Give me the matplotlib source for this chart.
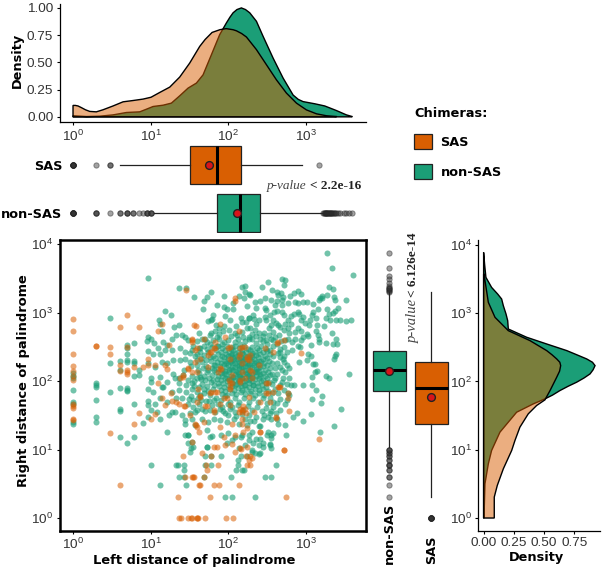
import numpy as np
import matplotlib
matplotlib.use('Agg')
import matplotlib.pyplot as plt
from matplotlib.patches import Patch
from matplotlib.ticker import NullLocator

plt.rcParams['font.family'] = ['Liberation Sans', 'DejaVu Sans']
plt.rcParams['mathtext.default'] = 'regular'

SAS_COL = '#D95F02'
NON_COL = '#1B9E77'
W, H = 604, 573

# density of left distance, x given as log10(distance)
top_sas_log = [0, .03, .064, .107, .16, .215, .30, .386, .515, .644, .773, .901, 1.004, 1.116, 1.245, 1.373, 1.502, 1.631,
               1.70, 1.79, 1.89, 1.97, 2.06, 2.103, 2.17, 2.232, 2.361, 2.489, 2.618, 2.747, 2.876, 3.004, 3.133, 3.262, 3.39]
top_sas_den = [.105, .105, .10, .085, .065, .05, .046, .065, .10, .138, .15, .163, .18, .224, .273, .365, .494, .647,
               .71, .775, .80, .81, .80, .79, .765, .733, .617, .479, .34, .218, .126, .064, .028, .01, .003]
top_non_log = [0, .172, .343, .515, .687, .858, .944, 1.03, 1.159, 1.266, 1.373, 1.481, 1.588, 1.674, 1.781, 1.888,
               1.974, 2.02, 2.06, 2.11, 2.167, 2.22, 2.275, 2.361, 2.446, 2.575, 2.704, 2.833, 2.90, 2.961, 3.112, 3.24, 3.39, 3.519, 3.592]
top_non_den = [.01, .003, .006, .018, .04, .046, .07, .095, .107, .126, .193, .264, .31, .386, .57, .755,
               .862, .915, .955, .985, 1.0, .985, .955, .877, .74, .54, .356, .2, .16, .14, .12, .1, .058, .018, .003]

# density of right distance
right_non_log = [0, .502, .794, .989, 1.257, 1.403, 1.549, 1.671, 1.744, 1.80, 1.866, 1.93, 1.988, 2.05, 2.11, 2.17, 2.231, 2.28, 2.329,
                 2.39, 2.451, 2.548, 2.646, 2.767, 2.889, 2.987, 3.108, 3.206, 3.279, 3.376, 3.523, 3.717, 3.888]
right_non_den = [.003, .011, .039, .066, .135, .204, .273, .411, .507, .57, .631, .70, .769, .83, .88, .905, .921, .90, .852,
                 .77, .687, .521, .356, .204, .199, .185, .163, .149, .116, .066, .019, .008, 0]
right_sas_log = [0, .307, .477, .721, .989, 1.135, 1.33, 1.525, 1.647, 1.73, 1.866, 2.061, 2.15, 2.231, 2.28, 2.329, 2.39, 2.451,
                 2.597, 2.743, 2.938, 3.157, 3.571]
right_sas_den = [.088, .088, .113, .163, .232, .259, .30, .369, .438, .507, .549, .604, .628, .637, .63, .604, .565, .521,
                 .383, .204, .094, .039, .003]

# box plot numbers, left distance
left_sas_box = dict(q1=32, med=72, q3=147, whislo=4, whishi=890, mean=57,
                    fliers=[1, 1, 1, 1, 1, 1, 1, 1, 2, 3, 3, 1480])
left_non_box = dict(q1=71, med=141, q3=253, whislo=11, whishi=1650, mean=128,
                    fliers=[1, 1, 1, 1, 1, 1, 1, 1, 2, 2, 2, 3, 4, 4, 5, 5, 5, 6, 6, 7, 8, 9, 9, 9, 10, 10, 10,
                            1660, 1700, 1730, 1760, 1790, 1820, 1850, 1880, 1920, 1950, 1990, 2030,
                            2070, 2120, 2170, 2230, 2300, 2380, 2450, 2600, 2750, 3050, 3300, 3600, 3950])
# box plot numbers, right distance
right_non_box = dict(q1=73, med=146, q3=282, whislo=11, whishi=2010, mean=141,
                     fliers=[2, 3, 4, 4, 5, 5, 6, 6, 6, 7, 7, 8, 8, 9, 9, 10, 10, 10,
                             2060, 2120, 2180, 2240, 2300, 2350, 2500, 2800, 3150, 3500, 4550, 7700])
right_sas_box = dict(q1=24, med=80, q3=190, whislo=2, whishi=2055, mean=59, fliers=[1, 1, 1, 1, 1, 1, 1, 1])

# scatter, (log10 left, log10 right)
sas_points = [
    (0, 2.91), (0, 2.73), (0, 2.39), (0, 2.22), (0, 2.15), (0, 2.08), (0, 2.01), (0, 1.67), (0, 1.64), (0, 1.61),
    (0, 1.45), (0, 1.43), (.3, 2.51), (.3, 2.51), (.48, 2.50), (.48, 2.40), (.48, 1.24), (.6, 2.79), (.6, 2.24),
    (.6, 2.15), (.6, .48), (.7, 2.96), (.7, 2.50), (.7, 2.16), (.7, 2.13), (.7, 2.10), (.78, 2.21), (.78, 1.37),
    (.85, 2.79), (.85, 1.54), (.90, 2.20), (.96, 2.32), (.96, 2.24), (1.0, 1.45), (1.05, 1.52), (1.05, 2.24),
    (1.09, 2.73), (1.09, 1.97), (1.15, 2.84), (1.15, 1.76), (1.18, 2.23), (1.19, 1.65), (1.21, 2.18), (1.23, 2.53),
    (1.26, 1.82), (1.28, 1.71), (1.33, 1.70), (1.36, 1.67), (1.43, 1.63), (1.51, 1.50), (1.59, 1.33), (1.62, 1.26),
    (1.53, 1.11), (1.42, .91), (1.53, .60), (1.56, .60), (1.44, .60), (1.35, .30), (1.37, 0), (1.39, 0), (1.48, 0),
    (1.53, 0), (1.60, 0), (1.62, .48), (1.46, 3.33), (1.56, 2.82), (1.53, 2.57), (1.59, 2.48), (1.57, 2.28),
    (1.42, 2.09), (1.38, 2.04), (1.48, 2.18), (1.53, 2.14), (1.64, 2.33), (1.61, 1.89), (1.59, 1.70),
    (2.08, 3.22), (2.09, 3.17), (1.89, 2.84), (1.58, 2.81), (2.13, 2.74), (1.53, 2.61), (1.83, 2.57), (1.96, 2.65),
    (1.69, 2.61), (1.81, 2.48), (2.02, 2.50), (2.17, 2.50), (2.71, 2.60), (2.63, 2.56), (2.47, 2.49), (2.21, 2.50),
    (2.94, 2.41), (2.58, 2.43), (2.49, 1.97), (2.51, 1.82), (2.77, 1.82), (2.77, 1.76), (2.66, 1.92), (2.58, 1.84),
    (2.78, 1.57), (2.61, 1.47), (2.41, 1.26), (3.16, 1.15), (2.72, 1.00), (2.24, 1.32), (2.17, 1.45), (2.18, 1.38),
    (2.21, 1.60), (2.18, 1.58), (2.23, 1.53), (2.33, 1.55), (2.24, 1.04), (2.16, 1.01), (2.23, .91), (2.28, .90),
    (2.31, .87), (2.26, .85), (2.24, .78), (2.28, .78), (1.71, .78), (1.72, .70), (1.86, .78), (1.69, .60),
    (1.54, .60), (1.82, .48), (1.88, .48), (2.13, .48), (1.63, .48), (1.76, .30), (2.74, .30), (1.52, 0), (1.61, 0),
    (1.70, 0), (1.97, 0), (2.06, 0), (1.59, 0), (1.82, 1.04), (1.85, 1.04), (1.96, 1.06), (2.04, 1.08), (2.15, 1.02),
    (2.09, .97), (1.66, .95), (1.78, .91), (1.94, 1.19), (2.09, 1.22), (2.19, 1.26), (2.41, 1.26), (2.71, 1.00),
    (2.15, 1.60), (2.17, 1.55), (2.61, 1.46), (2.02, 1.65), (1.94, 1.75), (1.78, 1.84), (1.63, 1.77), (1.72, 1.63),
    (1.81, 1.55), (1.58, 1.36), (1.68, 1.41), (1.89, 1.33), (2.04, 1.38), (1.76, 2.43), (1.83, 2.48), (2.0, 2.48),
    (2.24, 2.36), (2.26, 2.31), (2.15, 2.48), (2.17, 2.26), (2.02, 2.33), (1.91, 2.18), (1.87, 2.14), (2.39, 2.23),
    (2.28, 2.16), (2.04, 1.97), (2.02, 1.92), (2.15, 2.01), (2.21, 2.04), (2.51, 1.97), (2.49, 1.82), (2.64, 2.57),
    (2.64, 1.92), (2.54, 1.70), (2.41, 1.70), (1.85, 1.84), (1.98, 1.75), (1.78, 2.43), (1.74, 2.38), (1.57, 2.45),
    (1.53, 2.60), (2.13, 2.36), (2.15, 2.40), (2.24, 2.33), (2.28, 2.38), (1.89, 2.19), (1.74, 2.21), (2.04, 2.09),
    (2.17, 2.14), (2.30, 2.14), (2.02, 1.97), (2.15, 1.99), (2.30, 2.04), (1.63, 1.79), (1.76, 1.82), (1.83, 1.84),
    (2.02, 1.89), (2.13, 1.55), (2.19, 1.63), (1.44, 1.64), (1.42, 2.06), (1.48, 2.19), (1.59, 2.14), (2.65, 1.92),
    (2.26, 1.77), (1.89, 1.67), (1.57, 1.38), (1.70, 1.63), (1.81, 1.58), (2.01, 2.02),
]

non_points = [
    (0, 2.12), (0, 2.08), (0, 2.04), (0, 1.87), (0, 1.70), (0, 1.67), (0, 1.41), (0, 1.38), (.3, 1.98), (.3, 1.94),
    (.3, 1.91), (.3, 1.72), (.3, 1.47), (.3, 1.41), (.48, 2.93), (.48, 2.26), (.48, 1.84), (.6, 2.29), (.6, 2.16),
    (.6, 1.90), (.6, 1.59), (.6, 1.56), (.6, 1.19), (.7, 2.53), (.7, 2.49), (.7, 2.39), (.7, 2.31), (.7, 2.28),
    (.7, 1.90), (.7, 1.87), (.7, 1.85), (.7, 1.09), (.78, 2.56), (.78, 2.30), (.78, 2.26), (.78, 2.07), (.78, 1.67),
    (.78, 1.19), (.85, 2.16), (.85, 2.09), (.96, 3.51), (.90, 1.39),
    (.96, 2.65), (1.01, 2.62), (.95, 2.58), (1.04, 2.56), (1.11, 2.89), (1.12, 2.84), (1.15, 2.74), (1.18, 3.02),
    (1.26, 2.96), (1.30, 2.79), (1.37, 2.82), (.97, 2.44), (1.03, 2.40), (1.10, 2.48), (1.16, 2.57), (1.21, 2.53),
    (1.28, 2.62), (1.33, 2.67), (1.40, 2.67), (1.44, 2.65), (1.48, 2.60), (1.12, 2.40), (1.19, 2.45), (1.28, 2.45),
    (1.38, 2.48), (1.44, 2.43), (1.53, 2.45), (1.59, 2.40), (1.64, 2.48), (.97, 2.26), (1.06, 2.21), (1.14, 2.28),
    (1.21, 2.26), (1.29, 2.31), (1.38, 2.31), (1.44, 2.33), (1.51, 2.28), (1.59, 2.31), (1.0, 2.04), (1.01, 1.99),
    (1.12, 2.06), (1.16, 1.92), (1.21, 1.99), (1.31, 2.04), (1.29, 2.11), (1.36, 2.04), (1.42, 2.09), (1.48, 2.01),
    (1.53, 1.97), (1.59, 2.04), (1.64, 2.06), (.96, 1.88), (1.03, 1.84), (1.14, 1.92), (1.27, 1.84), (1.37, 1.87),
    (1.46, 1.84), (1.53, 1.89), (1.59, 1.84), (1.64, 1.80), (.96, 1.71), (.97, 1.65), (1.05, 1.67), (1.12, 1.75),
    (1.21, 1.70), (1.33, 1.75), (1.40, 1.75), (1.48, 1.67), (1.55, 1.72), (1.61, 1.75), (1.0, 1.58), (1.08, 1.55),
    (.96, 1.48), (1.12, 1.45), (1.23, 1.50), (1.27, 1.55), (1.31, 1.55), (1.40, 1.51), (1.51, 1.53), (1.59, 1.58),
    (1.21, 1.26), (1.44, 1.21), (1.48, 1.21), (1.48, 1.09), (1.53, 1.11), (1.51, .97), (1.52, 1.02), (1.55, 1.04),
    (1.32, .78), (1.35, .78), (1.43, .78), (1.43, .70), (1.36, .60), (1.43, .60), (1.12, .48), (1.0, .78), (1.46, .48),
    (1.36, 3.36), (1.46, 3.36), (1.56, 3.23),
    (1.78, 3.31), (1.73, 3.23), (1.69, 3.17), (1.85, 3.12), (1.94, 3.25), (1.67, 3.05), (1.94, 3.09), (1.98, 3.05),
    (2.06, 3.06), (2.06, 3.14), (2.17, 3.38), (2.22, 3.39), (2.21, 3.30), (2.27, 3.27), (2.14, 3.24), (2.20, 3.21),
    (2.24, 3.10), (1.74, 2.88), (1.78, 2.90), (1.80, 2.96), (1.79, 2.91), (1.84, 2.82), (1.95, 2.95), (2.02, 2.90),
    (1.94, 2.81), (2.18, 2.86), (2.23, 2.87), (2.26, 2.92), (2.24, 2.78), (2.01, 2.75), (1.93, 2.73), (1.76, 2.67),
    (1.85, 2.65), (1.94, 2.57), (1.70, 2.61), (2.11, 2.67), (2.19, 2.65), (2.26, 2.65), (2.15, 2.55), (2.04, 2.50),
    (1.85, 2.52), (1.76, 2.55),
    (3.27, 3.88), (3.33, 3.65), (3.60, 3.55), (2.69, 3.49), (2.73, 3.48), (2.51, 3.45), (2.71, 3.40), (2.43, 3.37),
    (3.29, 3.37), (3.35, 3.35), (2.56, 3.33), (2.63, 3.31), (2.68, 3.29), (2.85, 3.29), (2.89, 3.32), (2.93, 3.28),
    (2.79, 3.25), (3.27, 3.26), (3.20, 3.24), (3.36, 3.23), (2.70, 3.23), (2.64, 3.26), (2.28, 3.26), (2.47, 3.22),
    (2.41, 3.17), (2.34, 3.16), (2.55, 3.18), (2.62, 3.17), (2.69, 3.18), (2.77, 3.14), (2.86, 3.16), (2.89, 3.14),
    (2.96, 3.15), (3.01, 3.16), (3.09, 3.13), (3.16, 3.19), (3.18, 3.21), (3.21, 3.22), (3.37, 3.19), (3.51, 3.18),
    (2.35, 3.07), (2.47, 3.07), (2.48, 3.04), (2.60, 3.11), (2.69, 3.11), (2.59, 3.01), (2.62, 3.03), (2.54, 2.96),
    (2.69, 3.01), (2.72, 2.96), (3.09, 3.01), (3.15, 3.05), (3.27, 3.05), (3.41, 3.07), (3.37, 3.03), (3.35, 2.99),
    (3.30, 2.98), (2.89, 3.01), (2.84, 2.98), (2.91, 2.98), (2.96, 2.94), (2.80, 2.95), (3.07, 2.96), (3.13, 2.93),
    (3.26, 2.93), (3.31, 2.90), (3.39, 2.89), (3.44, 2.89), (3.52, 2.88), (3.58, 2.89), (2.32, 2.96), (2.26, 2.93),
    (2.33, 2.91), (2.47, 2.94), (2.49, 2.90), (2.58, 2.89), (2.61, 2.85), (2.64, 2.82), (2.77, 2.89), (2.73, 2.84),
    (2.81, 2.83), (2.94, 2.89), (2.99, 2.85), (3.05, 2.89), (3.04, 2.82), (3.14, 2.82), (3.23, 2.80), (3.33, 2.71),
    (3.13, 2.74), (3.15, 2.67), (3.17, 2.62), (3.16, 2.57), (3.38, 2.61), (3.26, 2.56), (3.35, 2.55), (3.40, 2.54),
    (2.77, 2.78), (2.71, 2.75), (2.66, 2.79), (2.89, 2.78), (2.86, 2.72), (2.94, 2.74), (3.01, 2.69), (2.96, 2.65),
    (3.03, 2.66), (2.78, 2.70), (2.77, 2.62), (2.86, 2.61), (2.94, 2.60), (3.06, 2.53), (2.89, 2.51), (2.92, 2.50),
    (2.73, 2.60), (2.57, 2.72), (2.34, 2.75), (2.28, 2.77), (2.31, 2.62), (2.41, 2.62), (2.46, 2.70), (2.49, 2.60),
    (2.58, 2.60),
    (3.55, 2.10), (3.36, 2.33), (3.38, 2.39), (3.37, 2.37), (3.09, 2.25), (3.11, 2.25), (3.14, 2.15), (3.11, 2.14),
    (3.08, 2.06), (3.26, 2.07), (3.29, 2.04), (2.91, 2.28), (3.03, 2.39), (3.06, 2.37), (3.01, 2.31), (2.96, 1.95),
    (3.07, 1.95), (3.13, 1.87), (3.21, 1.78), (3.07, 1.74), (3.19, 1.68), (3.45, 1.59), (3.06, 1.52), (3.36, 1.35),
    (3.18, 1.26), (2.96, 1.42), (2.88, 1.53), (2.83, 1.48), (2.85, 1.95), (2.81, 1.94), (2.78, 1.80), (2.75, 1.72),
    (2.73, 1.67), (2.66, 1.58), (2.61, 1.54), (2.55, 1.45), (2.51, 1.47), (2.45, 1.44), (2.62, 1.45), (2.64, 1.37),
    (2.73, 1.36), (2.74, 1.21), (2.58, 1.24), (2.51, 1.25), (2.55, 1.17), (2.35, 1.15), (2.41, 1.15), (2.45, 1.09),
    (2.53, 1.08), (2.55, 1.03), (2.39, 1.07), (2.32, 1.09), (2.26, 1.21), (2.31, 1.26), (2.39, 1.35), (2.41, 1.35),
    (2.28, 1.42), (2.33, 1.42), (2.16, 1.18), (2.30, 1.00), (2.34, .95), (2.41, .95), (2.70, 2.33), (2.66, 2.35),
    (2.71, 2.28), (2.66, 2.21), (2.75, 2.23), (2.78, 2.19), (2.73, 2.14), (2.69, 2.16), (2.78, 2.05), (2.63, 2.11),
    (2.75, 1.96), (2.60, 2.04), (2.66, 1.94), (2.71, 1.87), (2.64, 1.82), (2.77, 1.83),
    (1.72, 1.04), (1.70, .91), (1.78, .91), (1.91, .91), (1.70, .78), (1.78, .78), (1.69, .60), (2.03, .60), (1.96, .30),
    (2.04, .30), (2.12, .78), (2.10, .70), (2.17, .70), (2.20, .70), (2.16, .91), (2.24, .91), (2.47, .60), (2.55, .60),
    (2.61, .78), (2.34, .30), (2.12, .85), (2.39, .94), (2.30, .97), (2.45, 1.04), (2.54, 1.07), (2.55, 1.21), (2.50, 1.21),
    (1.68, 1.82), (1.71, 1.71), (1.76, 1.80), (1.81, 1.72), (1.86, 1.67), (1.66, 1.60), (1.70, 1.56), (1.76, 1.58),
    (1.83, 1.55), (1.89, 1.60), (1.96, 1.53), (2.02, 1.60), (2.09, 1.55), (1.66, 1.45), (1.74, 1.41), (1.81, 1.45),
    (1.89, 1.43), (1.98, 1.41), (2.07, 1.45), (2.13, 1.38), (2.21, 1.45), (2.24, 1.36), (1.72, 1.29), (1.79, 1.20),
    (1.91, 1.21), (2.0, 1.24), (2.09, 1.18), (2.17, 1.21), (1.98, 1.09), (2.04, 1.14), (2.13, 1.02), (2.21, 1.07),
    (2.26, 1.14), (1.76, 1.18), (1.72, 1.04), (1.57, 1.55), (1.53, 1.45), (1.44, 1.43), (1.44, 1.37), (1.57, 1.36), (1.48, 1.21),
    # fringe round the core
    (1.62, 2.70), (1.78, 2.71), (1.88, 2.69), (2.08, 2.70), (2.30, 2.69), (2.40, 2.71), (2.52, 2.68), (1.60, 2.58),
    (1.66, 2.62), (1.72, 2.57), (1.80, 2.60), (1.88, 2.62), (1.92, 2.55), (2.00, 2.60), (2.08, 2.57), (2.12, 2.62),
    (2.22, 2.58), (2.27, 2.61), (2.35, 2.56), (2.44, 2.58), (2.50, 2.55), (2.55, 2.62), (2.62, 2.54), (2.68, 2.58),
    (2.82, 2.57), (1.55, 2.52), (1.62, 2.48), (1.68, 2.52), (1.73, 2.47), (1.79, 2.50), (2.53, 2.46), (2.58, 2.51),
    (2.66, 2.47), (2.72, 2.50), (2.82, 2.46), (1.50, 2.41), (1.57, 2.37), (1.63, 2.42), (1.69, 2.38), (1.74, 2.43),
    (1.80, 2.37), (2.58, 2.37), (2.64, 2.41), (2.72, 2.37), (1.52, 2.22), (1.60, 2.24), (1.66, 2.28), (1.71, 2.22),
    (1.77, 2.30), (1.81, 2.24), (2.56, 2.26), (2.60, 2.19), (1.53, 2.08), (1.62, 2.12), (1.68, 2.07), (1.73, 2.13),
    (1.79, 2.09), (1.82, 2.16), (2.56, 2.11), (2.59, 2.02), (1.66, 1.96), (1.72, 1.93), (1.77, 1.99), (1.82, 1.94),
    (2.56, 1.96), (2.60, 1.88), (2.53, 1.76), (1.75, 1.71), (1.84, 1.76), (1.90, 1.72), (1.96, 1.78), (2.02, 1.70),
    (2.08, 1.76), (2.13, 1.70), (2.20, 1.76), (2.26, 1.70), (2.32, 1.75), (2.38, 1.69), (2.44, 1.75), (2.50, 1.68),
    (2.58, 1.70), (1.92, 1.62), (1.99, 1.66), (2.05, 1.62), (2.12, 1.65), (2.19, 1.58), (2.25, 1.63), (2.31, 1.58),
    (2.37, 1.62), (2.43, 1.56), (2.49, 1.61), (2.55, 1.56),
    (1.65, 2.34), (1.71, 2.31), (1.76, 2.36), (1.61, 2.17), (1.67, 2.19), (1.74, 2.17), (1.79, 2.19), (1.65, 2.03),
    (1.70, 2.01), (1.75, 2.05), (1.80, 2.02), (1.62, 1.92), (1.69, 1.88), (1.74, 1.86), (1.80, 1.89), (1.65, 1.72),
    (1.79, 1.65), (1.93, 1.57), (2.00, 1.50), (2.10, 1.49), (2.17, 1.52), (2.27, 1.50), (2.36, 1.48), (2.46, 1.50),
    (2.53, 1.53), (2.58, 1.62), (2.62, 1.68), (2.66, 1.74), (2.69, 1.99), (2.70, 2.05), (2.62, 2.27), (2.66, 2.42),
    (2.75, 2.43), (2.60, 2.65), (2.65, 2.68), (2.36, 2.66), (2.44, 2.66), (2.17, 2.72), (2.03, 2.66), (1.83, 2.74),
    (1.88, 2.77), (2.10, 2.80), (2.36, 2.84), (2.52, 2.78), (2.40, 2.90), (2.55, 2.82), (2.16, 2.93), (1.55, 1.62),
    (1.49, 1.74), (1.56, 1.93), (1.45, 1.95), (1.56, 2.00), (1.52, 1.78), (1.62, 1.66), (1.37, 1.97), (1.43, 2.16),
    # dense core
    (1.86, 2.51), (1.92, 2.49), (1.98, 2.52), (2.03, 2.47), (2.09, 2.51), (2.14, 2.48), (2.20, 2.52), (2.25, 2.47), (2.31, 2.50), (2.37, 2.48), (2.42, 2.51), (2.48, 2.47),
    (1.84, 2.45), (1.90, 2.43), (1.95, 2.46), (2.01, 2.42), (2.06, 2.45), (2.12, 2.43), (2.17, 2.46), (2.23, 2.42), (2.28, 2.45), (2.34, 2.43), (2.39, 2.46), (2.45, 2.42), (2.50, 2.44),
    (1.86, 2.39), (1.92, 2.37), (1.97, 2.40), (2.03, 2.38), (2.08, 2.41), (2.14, 2.38), (2.19, 2.40), (2.25, 2.37), (2.30, 2.41), (2.36, 2.38), (2.41, 2.40), (2.47, 2.37), (2.53, 2.39),
    (1.83, 2.34), (1.89, 2.32), (1.94, 2.35), (2.00, 2.33), (2.05, 2.36), (2.11, 2.33), (2.16, 2.35), (2.22, 2.32), (2.27, 2.36), (2.33, 2.33), (2.38, 2.35), (2.44, 2.32), (2.50, 2.34),
    (1.85, 2.28), (1.91, 2.27), (1.96, 2.30), (2.02, 2.28), (2.07, 2.31), (2.13, 2.28), (2.18, 2.30), (2.24, 2.27), (2.29, 2.30), (2.35, 2.28), (2.40, 2.30), (2.46, 2.27), (2.52, 2.29),
    (1.83, 2.23), (1.89, 2.22), (1.94, 2.25), (2.00, 2.23), (2.05, 2.26), (2.11, 2.23), (2.16, 2.25), (2.22, 2.22), (2.27, 2.25), (2.33, 2.23), (2.38, 2.25), (2.44, 2.22), (2.50, 2.24),
    (1.86, 2.18), (1.92, 2.17), (1.97, 2.20), (2.03, 2.18), (2.08, 2.21), (2.14, 2.18), (2.19, 2.20), (2.25, 2.17), (2.30, 2.20), (2.36, 2.18), (2.41, 2.20), (2.47, 2.17), (2.53, 2.19),
    (1.84, 2.13), (1.90, 2.12), (1.95, 2.15), (2.01, 2.13), (2.06, 2.16), (2.12, 2.13), (2.17, 2.15), (2.23, 2.12), (2.28, 2.15), (2.34, 2.13), (2.39, 2.15), (2.45, 2.12), (2.51, 2.14),
    (1.86, 2.08), (1.92, 2.07), (1.97, 2.10), (2.03, 2.08), (2.08, 2.11), (2.14, 2.08), (2.19, 2.10), (2.25, 2.07), (2.30, 2.10), (2.36, 2.08), (2.41, 2.10), (2.47, 2.07), (2.53, 2.09),
    (1.85, 2.03), (1.90, 2.02), (1.95, 2.05), (2.01, 2.03), (2.06, 2.06), (2.12, 2.03), (2.17, 2.05), (2.23, 2.02), (2.28, 2.05), (2.34, 2.03), (2.39, 2.05), (2.45, 2.02), (2.50, 2.04),
    (1.87, 1.98), (1.93, 1.97), (1.98, 2.00), (2.04, 1.98), (2.09, 2.01), (2.15, 1.98), (2.20, 2.00), (2.26, 1.97), (2.31, 2.00), (2.37, 1.98), (2.42, 2.00), (2.48, 1.97), (2.52, 1.99),
    (1.88, 1.93), (1.94, 1.92), (1.99, 1.95), (2.05, 1.93), (2.10, 1.96), (2.16, 1.93), (2.21, 1.95), (2.27, 1.92), (2.32, 1.95), (2.38, 1.93), (2.43, 1.95), (2.49, 1.92),
    (1.90, 1.87), (1.96, 1.86), (2.01, 1.89), (2.07, 1.87), (2.12, 1.90), (2.18, 1.87), (2.23, 1.89), (2.29, 1.86), (2.34, 1.89), (2.40, 1.87), (2.45, 1.89), (2.51, 1.86),
    (1.92, 1.81), (1.98, 1.80), (2.04, 1.83), (2.10, 1.81), (2.16, 1.84), (2.22, 1.81), (2.28, 1.83), (2.34, 1.80), (2.40, 1.83), (2.46, 1.80), (2.56, 1.82),
    # tighter centre
    (2.05, 2.40), (2.11, 2.37), (2.17, 2.41), (2.23, 2.35), (2.29, 2.38), (2.03, 2.30), (2.09, 2.26), (2.15, 2.31), (2.21, 2.27), (2.27, 2.32), (2.33, 2.26),
    (2.04, 2.20), (2.10, 2.15), (2.16, 2.21), (2.22, 2.16), (2.28, 2.20), (2.34, 2.15), (2.06, 2.06), (2.12, 2.10), (2.18, 2.05), (2.24, 2.11), (2.30, 2.06),
    (2.08, 1.95), (2.14, 2.00), (2.20, 1.94), (2.26, 2.01), (2.32, 1.95), (1.97, 2.26), (1.94, 2.12), (1.98, 2.05), (2.38, 2.19), (2.41, 2.07), (2.42, 2.29),
    (2.00, 2.37), (2.07, 2.34), (2.19, 2.33), (2.31, 2.35), (2.01, 2.17), (2.13, 2.22), (2.25, 2.23), (2.37, 2.14), (2.03, 2.02), (2.15, 2.07), (2.27, 2.09),
]

left_ticks = [1, 10, 100, 1000]
right_ticks = [1, 10, 100, 1000, 10000]
den_ticks = [0, .25, .5, .75]
den_top_ticks = [0, .25, .5, .75, 1]


def new_axes(x0, y0, x1, y1):
    # rectangle given in pixels from top left of the figure
    return fig.add_axes([x0 / W, 1 - y1 / H, (x1 - x0) / W, (y1 - y0) / H])


def clean_log(axis, ticks):
    axis.set_major_locator(matplotlib.ticker.FixedLocator(ticks))
    axis.set_major_formatter(matplotlib.ticker.LogFormatterMathtext())
    axis.set_minor_locator(NullLocator())


def style(ax):
    ax.spines['top'].set_visible(False)
    ax.spines['right'].set_visible(False)
    ax.spines['left'].set_linewidth(0.9)
    ax.spines['bottom'].set_linewidth(0.9)
    ax.tick_params(labelsize=9.7, labelcolor='#333333', length=2.5, width=0.8, pad=2)


def box(ax, stats, orient):
    ax.bxp(stats, positions=[0, 1], widths=0.78, orientation=orient, patch_artist=True,
           showmeans=True, showcaps=False, manage_ticks=False,
           medianprops=dict(color='black', lw=2.2),
           whiskerprops=dict(color='#222222', lw=0.9),
           boxprops=dict(edgecolor='#222222', lw=0.9),
           meanprops=dict(marker='o', markerfacecolor='#D7141A', markeredgecolor='#222222', markersize=5.6, markeredgewidth=1),
           flierprops=dict(marker='o', markersize=3.8, markerfacecolor='#333333', markeredgecolor='#222222',
                           markeredgewidth=0.7, alpha=0.45))
    for patch, col in zip(ax.patches, [NON_COL, SAS_COL]):
        patch.set_facecolor(col)


fig = plt.figure(figsize=(W / 100, H / 100), dpi=100)

x_lim = (10 ** -0.174, 10 ** 3.771)
y_lim = (10 ** -0.19, 10 ** 4.07)

# top density
ax_top = new_axes(59.5, 4, 366, 122.3)
ax_top.fill([1] + list(10 ** np.array(top_non_log)) + [10 ** top_non_log[-1]], [0] + top_non_den + [0],
            fc=NON_COL, ec='black', lw=1)
ax_top.fill([1] + list(10 ** np.array(top_sas_log)) + [10 ** top_sas_log[-1]], [0] + top_sas_den + [0],
            fc=SAS_COL + '80', ec='black', lw=1)
ax_top.set_xscale('log')
ax_top.set_xlim(x_lim)
ax_top.set_ylim(-0.05, 1.036)
clean_log(ax_top.xaxis, left_ticks)
ax_top.set_yticks(den_top_ticks, ['0.00', '0.25', '0.50', '0.75', '1.00'])
style(ax_top)
fig.text(17 / W, 1 - 60 / H, 'Density', rotation=90, family='DejaVu Sans', weight='bold', size=9.3, ha='center', va='center')

# top box plots
ax_tb = new_axes(59.5, 145, 366, 233)
box(ax_tb, [left_non_box, left_sas_box], 'horizontal')
ax_tb.set_xscale('log')
ax_tb.set_xlim(x_lim)
ax_tb.set_ylim(-0.417, 1.417)
ax_tb.xaxis.set_visible(False)
ax_tb.set_yticks([0, 1], ['non-SAS', 'SAS'], family='DejaVu Sans', weight='bold', size=9.3)
ax_tb.tick_params(axis='y', length=0, pad=-2)
for s in ax_tb.spines.values():
    s.set_visible(False)
ax_tb.patch.set_alpha(0)

# scatter
ax_sc = new_axes(59.5, 239.5, 366, 531)
ax_sc.scatter(*(10 ** np.array(non_points).T), s=19, color=NON_COL, alpha=0.62, linewidths=0)
ax_sc.scatter(*(10 ** np.array(sas_points).T), s=19, color=SAS_COL, alpha=0.55, linewidths=0)
ax_sc.set_xscale('log')
ax_sc.set_yscale('log')
ax_sc.set_xlim(x_lim)
ax_sc.set_ylim(y_lim)
clean_log(ax_sc.xaxis, left_ticks)
clean_log(ax_sc.yaxis, right_ticks)
ax_sc.tick_params(labelsize=9.7, labelcolor='#333333', length=2.5, width=0.8, pad=2)
for s in ax_sc.spines.values():
    s.set_linewidth(1.8)
ax_sc.set_xlabel('Left distance of palindrome', family='DejaVu Sans', weight='bold', size=9.4, labelpad=1, x=0.44)
ax_sc.set_ylabel('Right distance of palindrome', family='DejaVu Sans', weight='bold', size=9.4, labelpad=1, y=0.515)

# right box plots
ax_rb = new_axes(368, 240, 450, 531)
box(ax_rb, [right_non_box, right_sas_box], 'vertical')
ax_rb.set_yscale('log')
ax_rb.set_ylim(y_lim)
ax_rb.set_xlim(-0.51, 1.44)
ax_rb.yaxis.set_visible(False)
ax_rb.set_xticks([0, 1], ['non-SAS', 'SAS'], family='DejaVu Sans', weight='bold', size=9.3, rotation=90, va='bottom')
ax_rb.tick_params(axis='x', length=0, pad=24)
for s in ax_rb.spines.values():
    s.set_visible(False)
ax_rb.patch.set_alpha(0)

# right density
ax_right = new_axes(478.3, 240, 600, 531)
ax_right.fill([0] + right_non_den + [0], [1] + list(10 ** np.array(right_non_log)) + [10 ** right_non_log[-1]],
              fc=NON_COL, ec='black', lw=1)
ax_right.fill([0] + right_sas_den + [0], [1] + list(10 ** np.array(right_sas_log)) + [10 ** right_sas_log[-1]],
              fc=SAS_COL + '80', ec='black', lw=1)
ax_right.set_yscale('log')
ax_right.set_ylim(y_lim)
ax_right.set_xlim(-0.044, 0.962)
clean_log(ax_right.yaxis, right_ticks)
ax_right.set_xticks(den_ticks, ['0.00', '0.25', '0.50', '0.75'])
style(ax_right)
ax_right.set_xlabel('Density', family='DejaVu Sans', weight='bold', size=9.3, labelpad=1, x=0.48)

# p-values
serif = 'Liberation Serif'
fig.text(267 / W, 1 - 186 / H, 'p-value', family=serif, style='italic', color='#444444', size=9.5, va='center')
fig.text(310 / W, 1 - 186 / H, '< 2.2e-16', family=serif, weight='bold', color='#222222', size=9.5, va='center')
fig.text(413 / W, 1 - 343 / H, 'p-value', family=serif, style='italic', color='#444444', size=10.5,
         rotation=90, ha='center', va='bottom')
fig.text(413 / W, 1 - 297 / H, '< 6.126e-14', family=serif, weight='bold', color='#222222', size=9.5,
         rotation=90, ha='center', va='bottom')

# legend
handles = [Patch(facecolor=SAS_COL, edgecolor='#222222', lw=0.9), Patch(facecolor=NON_COL, edgecolor='#222222', lw=0.9)]
leg = fig.legend(handles, ['SAS', 'non-SAS'], title='Chimeras:', loc='upper left',
                 bbox_to_anchor=(414 / W, 1 - 107 / H), frameon=False, borderpad=0, borderaxespad=0,
                 prop=dict(family='DejaVu Sans', weight='bold', size=9.3),
                 title_fontproperties=dict(family='DejaVu Sans', weight='bold', size=9.3),
                 handlelength=1.4, handleheight=1.4, handletextpad=0.65, labelspacing=1.12)
leg._legend_box.align = 'left'

fig.savefig('out.png', dpi=100)
